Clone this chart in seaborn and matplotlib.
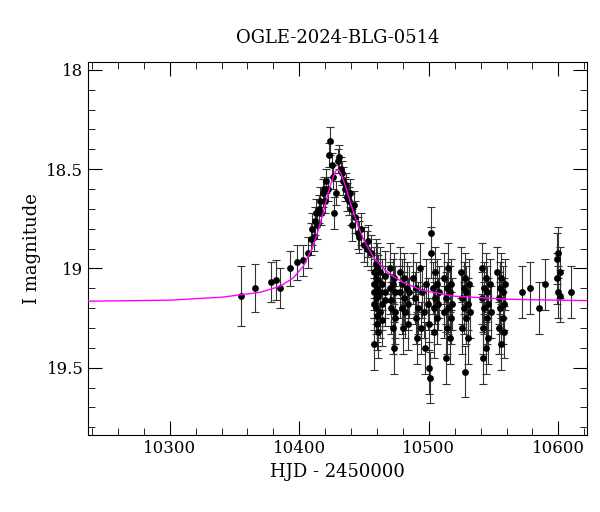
import numpy as np
import pandas as pd
import matplotlib
matplotlib.use("Agg")
import matplotlib.pyplot as plt
import seaborn as sns
from matplotlib.ticker import MultipleLocator

title = "OGLE-2024-BLG-0514"
hjd = [10355,10366,10378,10382,10385,10393,10398,10403,10407,10409,10410,10411,10412,10413,10414,
       10415,10416,10417,10418,10419,10420,10421,10422,10423,10424,10425,10426,10427,10428,10430,
       10431,10432,10433,10434,10435,10436,10437,10438,10439,10440,10441,10442,10443,10445,10446,
       10448,10450,10452,10453,10455,
       10458,10458,10458,10458,10458,10459,10459,10459,10459,10460,10460,10460,10460,10461,10461,10461,
       10462,10462,10462,10464,10464,10464,10466,10466,10466,
       10470,10470,10471,10471,10472,10472,10473,10473,10474,10474,10474,
       10478,10478,10479,10479,10480,10481,10481,10482,10483,10484,10484,10485,
       10488,10489,10490,10490,10491,10492,10493,10494,10495,10496,10497,10498,10499,10500,10500,
       10501,10502,10502,10503,10504,10504,10505,10505,10506,10506,10507,10508,
       10512,10512,10513,10513,10514,10514,10515,10515,10516,10516,10517,10517,10518,
       10525,10526,10526,10527,10527,10528,10528,10529,10529,10530,10530,10531,10532,
       10541,10541,10542,10542,10543,10543,10544,10544,10545,10545,10546,10546,10547,10548,
       10553,10554,10554,10555,10555,10556,10556,10557,10557,10558,10558,10559,
       10572,10578,10585,10590,10599,10599,10600,10600,10601,10601,10610]
mag = [19.14,19.10,19.07,19.06,19.10,19.00,18.97,18.96,18.92,18.85,18.80,18.84,18.76,18.72,18.78,
       18.70,18.66,18.72,18.62,18.60,18.66,18.56,18.60,18.43,18.36,18.48,18.54,18.72,18.62,18.46,
       18.44,18.50,18.52,18.56,18.60,18.58,18.64,18.66,18.62,18.70,18.78,18.68,18.74,18.82,18.84,
       18.80,18.88,18.90,18.86,18.92,
       19.02,19.08,19.12,19.18,19.38,18.98,19.05,19.20,19.15,19.10,19.24,19.00,19.28,19.06,19.14,19.32,
       19.12,19.02,19.22,19.08,19.18,19.26,19.04,19.16,19.12,
       19.00,19.10,19.20,19.16,19.30,19.08,19.40,19.05,19.22,19.12,19.25,
       19.02,19.12,19.20,19.08,19.30,19.15,19.05,19.22,19.10,19.28,19.18,19.12,
       19.05,19.15,19.25,19.10,19.35,19.20,19.00,19.30,19.12,19.22,19.40,19.08,19.18,19.50,19.28,
       19.55,18.82,18.92,19.10,19.20,19.32,19.02,19.15,19.25,19.08,19.18,19.12,
       19.05,19.22,19.45,19.15,19.30,19.10,19.20,19.00,19.35,19.12,19.25,19.08,19.18,
       19.02,19.15,19.30,19.10,19.20,19.52,19.05,19.25,19.12,19.35,19.18,19.08,19.22,
       19.00,19.15,19.30,19.45,19.10,19.20,19.05,19.40,19.25,19.12,19.35,19.18,19.08,19.22,
       19.02,19.15,19.30,19.10,19.20,19.38,19.05,19.25,19.12,19.18,19.32,19.08,
       19.12,19.10,19.20,19.08,18.95,19.05,18.92,19.12,19.02,19.14,19.12]
err = [0.15,0.12,0.10,0.10,0.10,0.09,0.09,0.08,0.08,0.08,0.08,0.07,0.07,0.07,0.07,
       0.07,0.07,0.06,0.07,0.06,0.06,0.06,0.06,0.06,0.07,0.06,0.06,0.08,0.06,0.06,
       0.06,0.06,0.06,0.07,0.06,0.06,0.07,0.07,0.07,0.08,0.08,0.07,0.08,0.08,0.08,
       0.08,0.09,0.09,0.08,0.09] + [0.13]*(len(mag)-50)

curve_t = [10237,10300,10340,10370,10385,10395,10403,10410,10415,10420,10424,10428,10430,
           10432,10436,10440,10445,10450,10458,10468,10480,10495,10520,10560,10600,10622]
curve_m = [19.165,19.16,19.145,19.12,19.09,19.05,18.99,18.90,18.80,18.68,18.58,18.51,18.50,
           18.52,18.59,18.68,18.78,18.86,18.95,19.02,19.07,19.11,19.14,19.155,19.16,19.162]

df = pd.DataFrame({"t": hjd, "m": mag, "e": err})
cdf = pd.DataFrame({"t": curve_t, "m": curve_m})

plt.rcParams["font.family"] = "DejaVu Serif"
fig, ax = plt.subplots(figsize=(6.0, 5.12), dpi=100)
fig.subplots_adjust(left=0.147, right=0.978, bottom=0.15, top=0.879)
ax.errorbar(df.t, df.m, yerr=df.e, fmt="none", ecolor="#333333", elinewidth=0.8, capsize=3, capthick=0.8, zorder=2)
sns.scatterplot(data=df, x="t", y="m", color="black", s=24, edgecolor="black", linewidth=0, ax=ax, zorder=3)
sns.lineplot(data=cdf, x="t", y="m", color="magenta", linewidth=1, ax=ax, zorder=4)
ax.set_xlim(10237, 10622)
ax.set_ylim(19.84, 17.96)
ax.xaxis.set_major_locator(MultipleLocator(100))
ax.xaxis.set_minor_locator(MultipleLocator(20))
ax.yaxis.set_major_locator(MultipleLocator(0.5))
ax.yaxis.set_minor_locator(MultipleLocator(0.1))
ax.tick_params(which="both", direction="in", top=True, right=True, labelsize=12)
ax.tick_params(which="major", length=10)
ax.tick_params(which="minor", length=5)
ax.yaxis.set_major_formatter(plt.FuncFormatter(lambda v, p: f"{v:g}"))
ax.set_xlabel("HJD - 2450000", fontsize=13)
ax.set_ylabel("I magnitude", fontsize=13)
ax.set_title(title, fontsize=13, pad=14)
fig.savefig("out.png")
